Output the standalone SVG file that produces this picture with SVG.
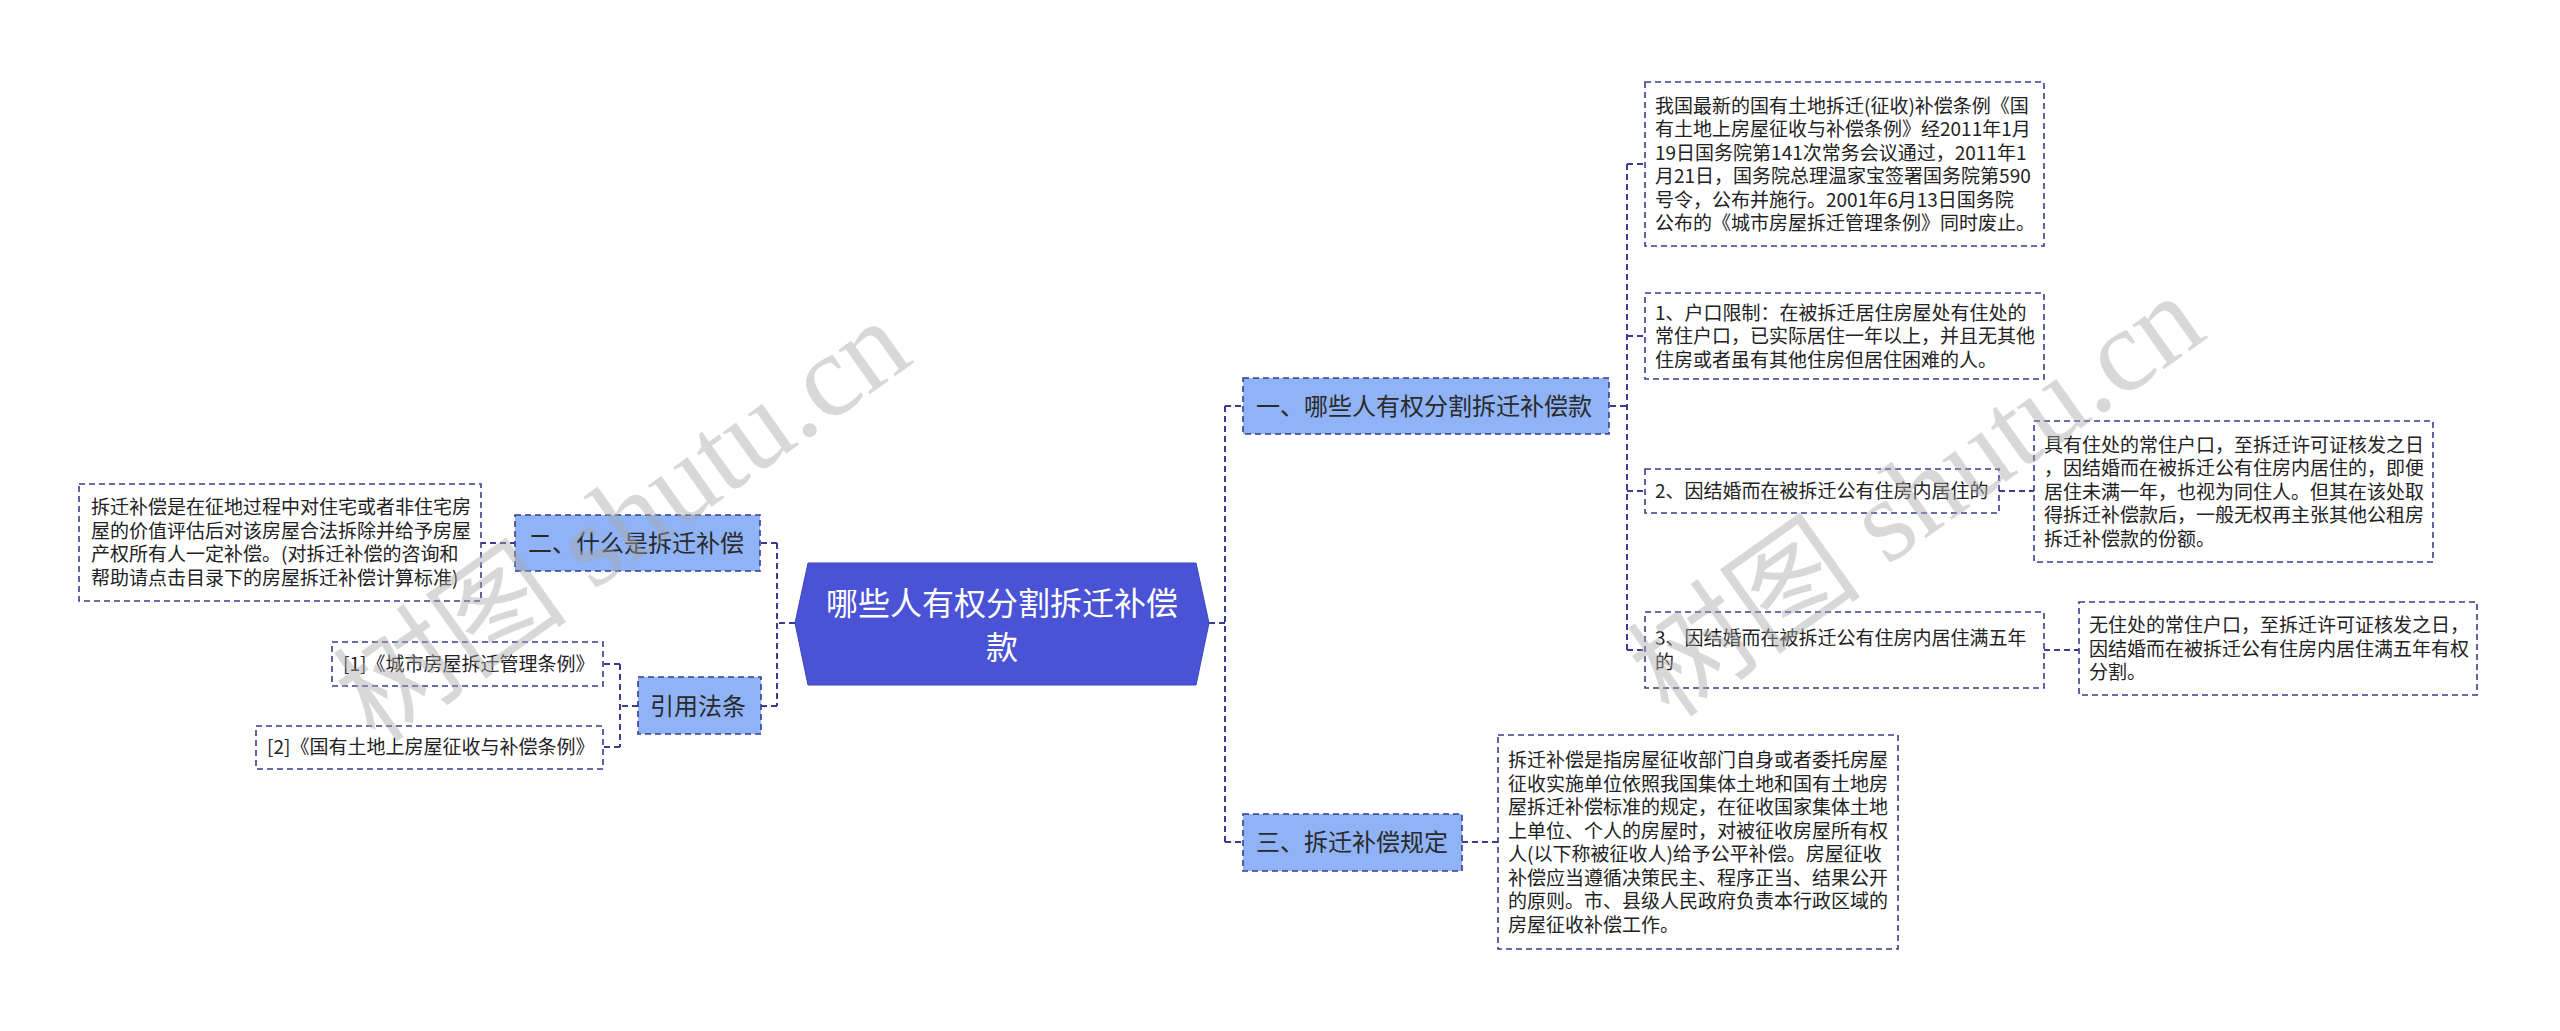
<svg xmlns="http://www.w3.org/2000/svg" width="2560" height="1031" viewBox="0 0 2560 1031">
<style>
.bg{fill:#ffffff}
.conn{fill:none;stroke:#383d8f;stroke-width:2;stroke-dasharray:6 4}
.leaf{fill:#ffffff;stroke:#383d8f;stroke-width:1.6;stroke-dasharray:6 4}
.sub{fill:#8fb3f6;stroke:#383d8f;stroke-width:1.6;stroke-dasharray:6 4}
.root{fill:#4a52d5;stroke:#3d45c0;stroke-width:1}
.t19{font-family:"Noto Sans CJK SC","Noto Sans",sans-serif;font-size:19px;fill:#222222}
.t24{font-family:"Noto Sans CJK SC","Noto Sans",sans-serif;font-size:24px;fill:#2a2a2a}
.t32{font-family:"Noto Sans CJK SC","Noto Sans",sans-serif;font-size:32px;fill:#ffffff;text-anchor:middle}
.wm{font-family:"Liberation Serif","Noto Sans CJK SC",serif;font-size:118px;fill:#a8a8a8;fill-opacity:0.45}
</style>
<rect class="bg" x="0" y="0" width="2560" height="1031"/>

<g id="connectors">
  <path class="conn" d="M795 623 H777 M777 543 V706 M777 543 H760 M777 706 H761"/>
  <path class="conn" d="M516 543 H481"/>
  <path class="conn" d="M638 706 H620 M620 664 V747 M620 664 H603 M620 747 H603"/>
  <path class="conn" d="M1209 623 H1225 M1225 406 V842 M1225 406 H1243 M1225 842 H1243"/>
  <path class="conn" d="M1610 406 H1627 M1627 164 V650 M1627 164 H1645 M1627 336 H1645 M1627 491 H1645 M1627 650 H1645"/>
  <path class="conn" d="M1999 491 H2034"/>
  <path class="conn" d="M2044 650 H2079"/>
  <path class="conn" d="M1462 842 H1498"/>
</g>

<g id="root">
  <polygon class="root" points="795,623 808,563 1196,563 1209,623 1196,685 808,685"/>
  <text class="t32" x="1002" y="615">哪些人有权分割拆迁补偿</text>
  <text class="t32" x="1002" y="659">款</text>
</g>

<g id="node-what">
  <rect class="sub" x="515" y="515" width="245" height="56"/>
  <text class="t24" x="528" y="552">二、什么是拆迁补偿</text>
</g>
<g id="node-what-detail">
  <rect class="leaf" x="79" y="484" width="402" height="117"/>
  <text class="t19" x="91" y="514">拆迁补偿是在征地过程中对住宅或者非住宅房</text>
  <text class="t19" x="91" y="537.5">屋的价值评估后对该房屋合法拆除并给予房屋</text>
  <text class="t19" x="91" y="561">产权所有人一定补偿。(对拆迁补偿的咨询和</text>
  <text class="t19" x="91" y="584.5">帮助请点击目录下的房屋拆迁补偿计算标准)</text>
</g>

<g id="node-law">
  <rect class="sub" x="638" y="677" width="123" height="57"/>
  <text class="t24" x="650" y="715">引用法条</text>
</g>
<g id="node-law-1">
  <rect class="leaf" x="332" y="642" width="271" height="44"/>
  <text class="t19" x="343" y="671">[1]《城市房屋拆迁管理条例》</text>
</g>
<g id="node-law-2">
  <rect class="leaf" x="256" y="726" width="347" height="43"/>
  <text class="t19" x="267" y="754">[2]《国有土地上房屋征收与补偿条例》</text>
</g>

<g id="node-who">
  <rect class="sub" x="1243" y="378" width="366" height="56"/>
  <text class="t24" x="1256" y="415">一、哪些人有权分割拆迁补偿款</text>
</g>
<g id="node-who-law">
  <rect class="leaf" x="1645" y="82" width="399" height="164"/>
  <text class="t19" x="1655" y="112.5">我国最新的国有土地拆迁(征收)补偿条例《国</text>
  <text class="t19" x="1655" y="136">有土地上房屋征收与补偿条例》经2011年1月</text>
  <text class="t19" x="1655" y="159.5">19日国务院第141次常务会议通过，2011年1</text>
  <text class="t19" x="1655" y="183">月21日，国务院总理温家宝签署国务院第590</text>
  <text class="t19" x="1655" y="206.5">号令，公布并施行。2001年6月13日国务院</text>
  <text class="t19" x="1655" y="230">公布的《城市房屋拆迁管理条例》同时废止。</text>
</g>
<g id="node-who-1">
  <rect class="leaf" x="1645" y="293" width="399" height="86"/>
  <text class="t19" x="1655" y="319.5">1、户口限制：在被拆迁居住房屋处有住处的</text>
  <text class="t19" x="1655" y="343">常住户口，已实际居住一年以上，并且无其他</text>
  <text class="t19" x="1655" y="366.5">住房或者虽有其他住房但居住困难的人。</text>
</g>
<g id="node-who-2">
  <rect class="leaf" x="1645" y="469" width="354" height="44"/>
  <text class="t19" x="1655" y="498">2、因结婚而在被拆迁公有住房内居住的</text>
</g>
<g id="node-who-2-detail">
  <rect class="leaf" x="2034" y="421" width="399" height="141"/>
  <text class="t19" x="2044" y="451.5">具有住处的常住户口，至拆迁许可证核发之日</text>
  <text class="t19" x="2044" y="475">，因结婚而在被拆迁公有住房内居住的，即便</text>
  <text class="t19" x="2044" y="498.5">居住未满一年，也视为同住人。但其在该处取</text>
  <text class="t19" x="2044" y="522">得拆迁补偿款后，一般无权再主张其他公租房</text>
  <text class="t19" x="2044" y="545.5">拆迁补偿款的份额。</text>
</g>
<g id="node-who-3">
  <rect class="leaf" x="1645" y="612" width="399" height="76"/>
  <text class="t19" x="1655" y="645">3、因结婚而在被拆迁公有住房内居住满五年</text>
  <text class="t19" x="1655" y="668.5">的</text>
</g>
<g id="node-who-3-detail">
  <rect class="leaf" x="2079" y="602" width="398" height="93"/>
  <text class="t19" x="2089" y="632">无住处的常住户口，至拆迁许可证核发之日，</text>
  <text class="t19" x="2089" y="655.5">因结婚而在被拆迁公有住房内居住满五年有权</text>
  <text class="t19" x="2089" y="679">分割。</text>
</g>

<g id="node-rule">
  <rect class="sub" x="1243" y="814" width="219" height="57"/>
  <text class="t24" x="1256" y="851">三、拆迁补偿规定</text>
</g>
<g id="node-rule-detail">
  <rect class="leaf" x="1498" y="735" width="400" height="214"/>
  <text class="t19" x="1508" y="767">拆迁补偿是指房屋征收部门自身或者委托房屋</text>
  <text class="t19" x="1508" y="790.5">征收实施单位依照我国集体土地和国有土地房</text>
  <text class="t19" x="1508" y="814">屋拆迁补偿标准的规定，在征收国家集体土地</text>
  <text class="t19" x="1508" y="837.5">上单位、个人的房屋时，对被征收房屋所有权</text>
  <text class="t19" x="1508" y="861">人(以下称被征收人)给予公平补偿。房屋征收</text>
  <text class="t19" x="1508" y="884.5">补偿应当遵循决策民主、程序正当、结果公开</text>
  <text class="t19" x="1508" y="908">的原则。市、县级人民政府负责本行政区域的</text>
  <text class="t19" x="1508" y="931.5">房屋征收补偿工作。</text>
</g>

<g id="watermarks">
  <text class="wm" transform="translate(376,745) rotate(-35.4)">树图 shutu.cn</text>
  <text class="wm" transform="translate(1670,720) rotate(-35.4)">树图 shutu.cn</text>
</g>
</svg>
